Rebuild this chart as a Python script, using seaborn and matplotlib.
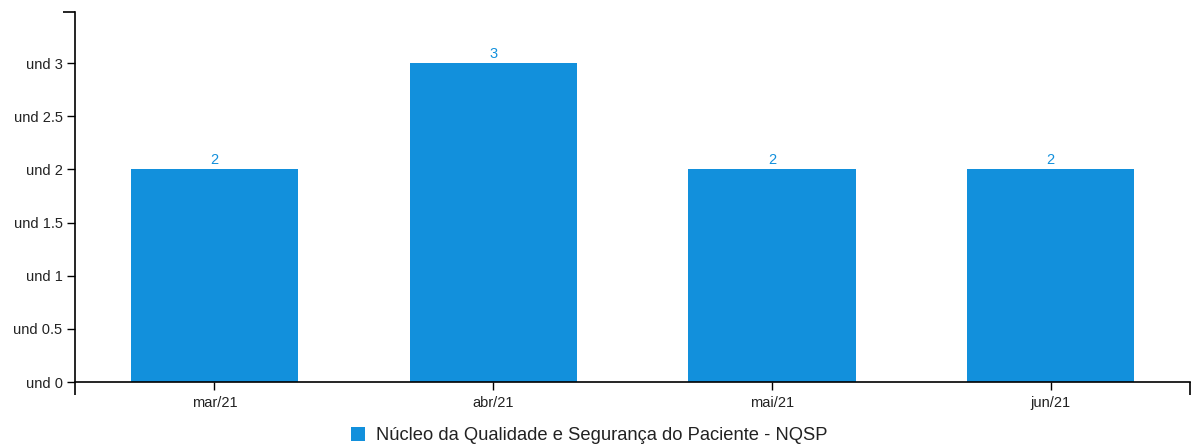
import matplotlib
matplotlib.use("Agg")
import matplotlib.pyplot as plt
import seaborn as sns
import pandas as pd
from matplotlib.patches import Patch

categories = ["mar/21", "abr/21", "mai/21", "jun/21"]
values = [2, 3, 2, 2]
series_name = "Núcleo da Qualidade e Segurança do Paciente - NQSP"
yticks = [0, 0.5, 1, 1.5, 2, 2.5, 3]

color = "#1290dc"

sns.set_theme(style="white")
plt.rcParams["font.family"] = ["Liberation Sans", "DejaVu Sans"]

df = pd.DataFrame({"cat": categories, "val": values})

fig = plt.figure(figsize=(11.93, 4.47), dpi=100)
ax = fig.add_axes([75 / 1193, (447 - 382) / 447, (1190 - 75) / 1193, (382 - 12) / 447])

sns.barplot(data=df, x="cat", y="val", color=color, width=0.6, saturation=1,
            linewidth=0, ax=ax)

ax.set_xlim(-0.5, len(categories) - 0.5)
ax.set_ylim(0, 3.48)
ax.set_yticks(yticks)
ax.set_yticklabels([f"und {v:g}" for v in yticks])
ax.set_xlabel("")
ax.set_ylabel("")

for s in ["top", "right"]:
    ax.spines[s].set_visible(False)
for s in ["left", "bottom"]:
    ax.spines[s].set_color("black")
    ax.spines[s].set_linewidth(1.2)

ax.tick_params(axis="both", which="major", length=6, width=1, color="black",
               labelsize=10.5, labelcolor="#222222", direction="out")
ax.tick_params(axis="y", which="major", pad=3)
ax.tick_params(axis="x", which="major", pad=4)
ax.tick_params(axis="both", which="major", bottom=True, left=True)
# outer ticks at axis ends
ax.set_yticks([3.48], minor=True)
ax.set_xticks([-0.5, len(categories) - 0.5], minor=True)
ax.tick_params(axis="both", which="minor", length=9, width=1.2, color="black",
               bottom=True, left=True, direction="out")

for i, v in enumerate(values):
    ax.annotate(f"{v:g}", (i, v), xytext=(0, 1.5), textcoords="offset points",
                ha="center", va="bottom", color=color, fontsize=10.5)

handle = Patch(facecolor=color, edgecolor="none")
fig.legend([handle], [series_name], loc="lower center", bbox_to_anchor=(0.494, -0.031),
           frameon=False, fontsize=13.2, handlelength=0.8, handleheight=0.8,
           handletextpad=0.6, labelcolor="#222222")

fig.savefig("out.png", dpi=100)
